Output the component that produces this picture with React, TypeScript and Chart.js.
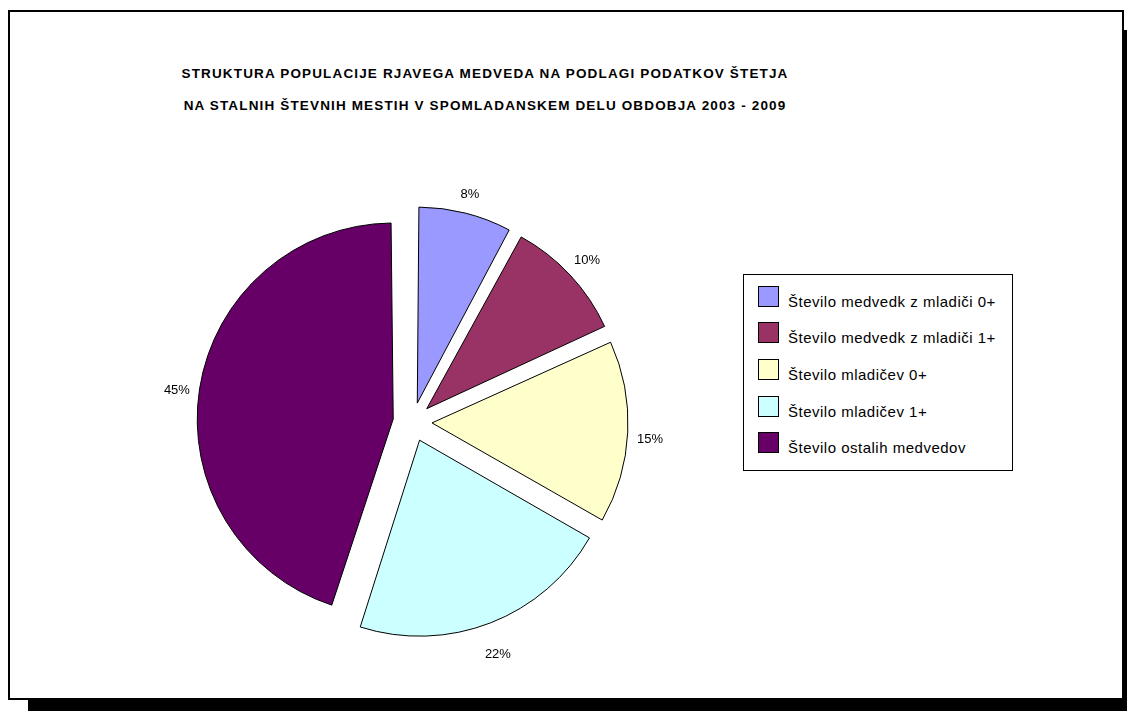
import React, { useEffect, useRef } from "react";
import { Chart, registerables } from "chart.js";

Chart.register(...registerables);

const categories = [
  "Število medvedk z mladiči 0+",
  "Število medvedk z mladiči 1+",
  "Število mladičev 0+",
  "Število mladičev 1+",
  "Število ostalih medvedov",
];
const shares = [7.9, 10.3, 15.1, 21.6, 45.1];
const sliceColors = ["#9999FF", "#993366", "#FFFFCC", "#CCFFFF", "#660066"];
const titleLines = [
  "STRUKTURA POPULACIJE RJAVEGA MEDVEDA NA PODLAGI PODATKOV ŠTETJA",
  "NA STALNIH ŠTEVNIH MESTIH V SPOMLADANSKEM DELU OBDOBJA 2003 - 2009",
];

const PIE_RADIUS = 196;
const EXPLODE = 19.5;
const LABEL_GAP = 9;
const LABEL_SHIFT_Y = 6;
const LABEL_STRETCH_Y = 1.03;
const FONT = '"Liberation Sans", Arial, sans-serif';

const explodeFix = {
  id: "explodeFix",
  afterDatasetsUpdate(chart: any) {
    const meta = chart.getDatasetMeta(0);
    meta.data.forEach((arc: any) => {
      const c = arc.endAngle - arc.startAngle;
      const fix = 1 - Math.sin(Math.min(Math.PI, c));
      arc.outerRadius = PIE_RADIUS - EXPLODE * fix;
    });
  },
};

const pctLabels = {
  id: "pctLabels",
  afterDatasetsDraw(chart: any) {
    const ctx = chart.ctx;
    const meta = chart.getDatasetMeta(0);
    const values = chart.data.datasets[0].data as number[];
    const total = values.reduce((a, b) => a + b, 0);
    ctx.save();
    ctx.font = `13px ${FONT}`;
    ctx.fillStyle = "#000";
    ctx.textAlign = "center";
    ctx.textBaseline = "middle";
    meta.data.forEach((arc: any, i: number) => {
      const mid = (arc.startAngle + arc.endAngle) / 2;
      const text = Math.round((values[i] / total) * 100) + "%";
      const w = ctx.measureText(text).width;
      const h = 14;
      const half = (Math.abs(Math.cos(mid)) * w) / 2 + (Math.abs(Math.sin(mid)) * h) / 2;
      const dist = PIE_RADIUS + EXPLODE + LABEL_GAP + half;
      ctx.fillText(
        text,
        arc.x + Math.cos(mid) * dist,
        arc.y + LABEL_SHIFT_Y + Math.sin(mid) * dist * LABEL_STRETCH_Y
      );
    });
    ctx.restore();
  },
};

export default function App() {
  const canvasRef = useRef<HTMLCanvasElement | null>(null);

  useEffect(() => {
    if (!canvasRef.current) return;
    const chart = new Chart(canvasRef.current, {
      type: "pie",
      data: {
        labels: categories,
        datasets: [
          {
            data: shares,
            backgroundColor: sliceColors,
            borderColor: "#000",
            borderWidth: 1,
            offset: EXPLODE * 4,
            radius: PIE_RADIUS,
          } as any,
        ],
      },
      options: {
        responsive: false,
        animation: false,
        layout: { padding: 0 },
        plugins: {
          legend: { display: false },
          tooltip: { enabled: false },
          title: { display: false },
        },
        events: [],
      } as any,
      plugins: [explodeFix, pctLabels],
    });
    return () => chart.destroy();
  }, []);

  return (
    <div style={{ fontFamily: FONT }}>
      <div
        style={{ position: "fixed", left: 28, top: 30, width: 1116, height: 690, background: "#000" }}
      />
      <div
        style={{
          position: "fixed",
          left: 8,
          top: 10,
          width: 1116,
          height: 690,
          boxSizing: "border-box",
          border: "2px solid #000",
          background: "#fff",
        }}
      >
        {titleLines.map((t, i) => (
          <div
            key={i}
            style={{
              position: "absolute",
              left: 0,
              width: 950,
              top: 54 + i * 32,
              lineHeight: "16px",
              fontSize: 13.5,
              fontWeight: "bold",
              letterSpacing: "1.15px",
              textAlign: "center",
              whiteSpace: "nowrap",
              color: "#000",
            }}
          >
            {t}
          </div>
        ))}
        <canvas
          ref={canvasRef}
          width={601}
          height={540}
          style={{ position: "absolute", left: 102, top: 140 }}
        />
        <div
          style={{
            position: "absolute",
            left: 733,
            top: 262,
            width: 270,
            height: 197,
            boxSizing: "border-box",
            border: "1px solid #000",
            background: "#fff",
          }}
        >
          {categories.map((c, i) => (
            <div
              key={c}
              style={{ position: "absolute", left: 0, top: 10.7 + i * 36.6, width: 268, height: 21 }}
            >
              <div
                style={{
                  position: "absolute",
                  left: 14,
                  top: 0,
                  width: 21,
                  height: 21,
                  boxSizing: "border-box",
                  border: "1px solid #000",
                  background: sliceColors[i],
                }}
              />
              <div
                style={{
                  position: "absolute",
                  left: 44,
                  top: 5,
                  lineHeight: "21px",
                  fontSize: 15,
                  letterSpacing: "0.5px",
                  whiteSpace: "nowrap",
                  color: "#000",
                }}
              >
                {c}
              </div>
            </div>
          ))}
        </div>
      </div>
    </div>
  );
}
